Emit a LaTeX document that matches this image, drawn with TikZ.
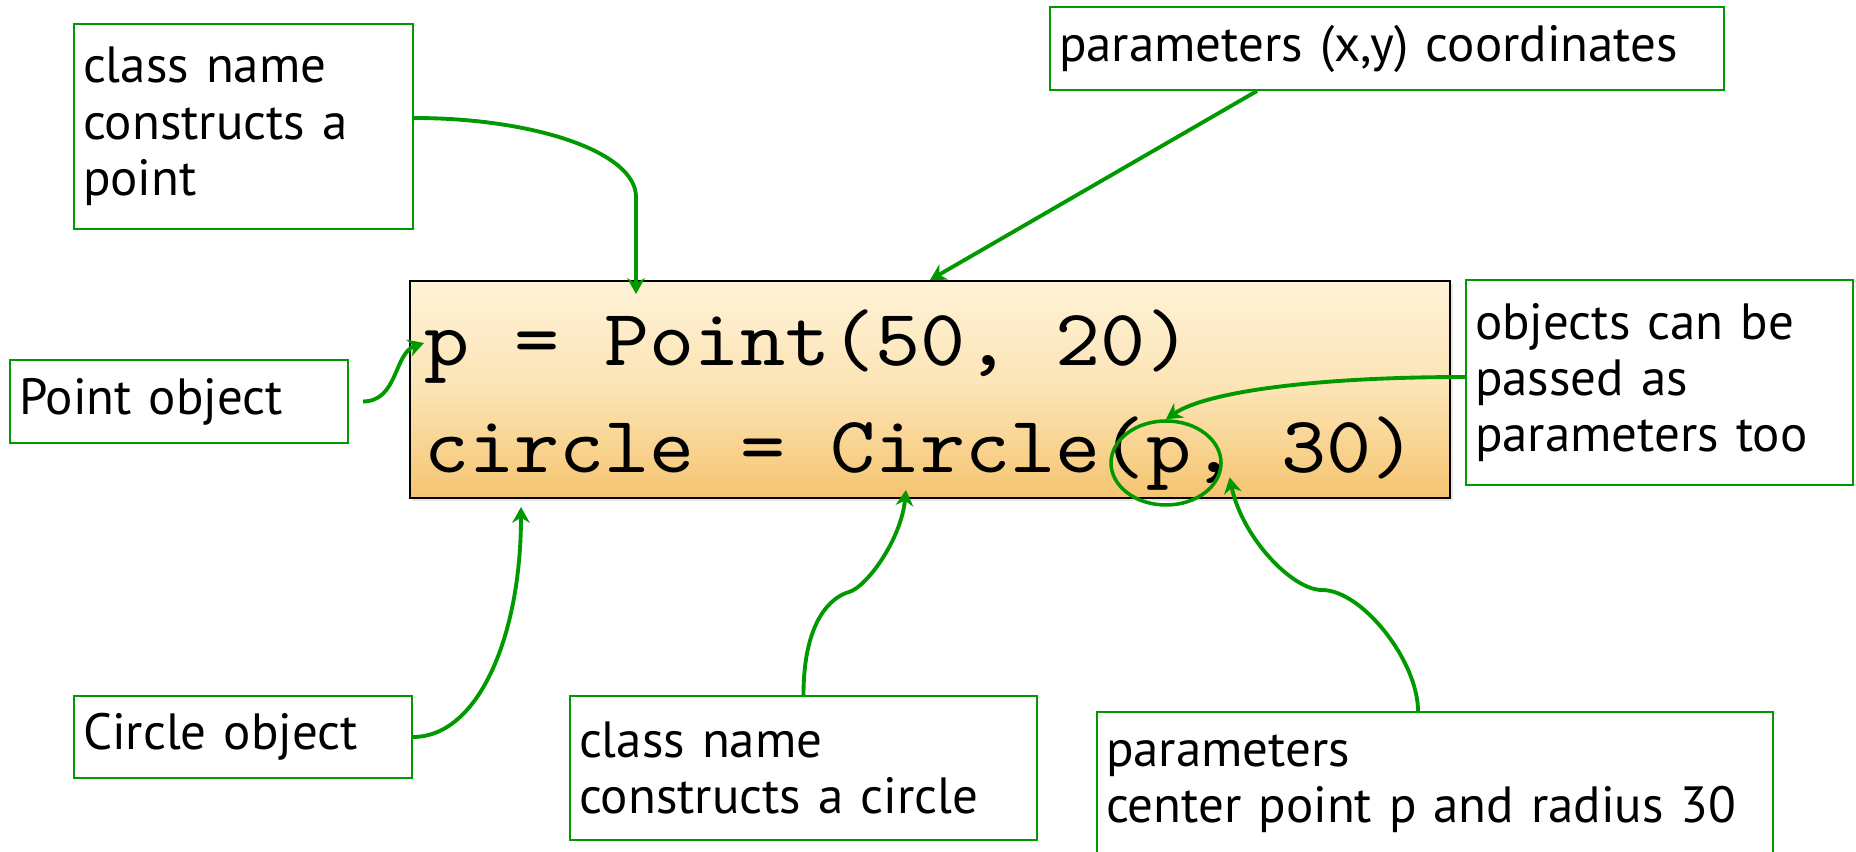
\documentclass[tikz,border=0pt]{standalone}
\usepackage{fontspec}
\setmainfont{PT Sans}
\newfontfamily\codefont{lmmono10-regular.otf}[FakeStretch=1.07]
\usepackage{xcolor}
\usetikzlibrary{arrows.meta, positioning, shapes.geometric, shadows}

\definecolor{anngreen}{RGB}{0,153,0}
\definecolor{codetop}{RGB}{254,242,215}
\definecolor{codemid}{RGB}{252,228,180}
\definecolor{codebot}{RGB}{245,196,112}

\begin{document}
\begin{tikzpicture}[
  note/.style={draw=anngreen, line width=1.1pt, fill=white, align=left, inner xsep=0.18cm, inner ysep=0pt, font=\fontsize{29}{32}\selectfont},
  codeline/.style={font=\codefont\fontsize{45.7}{50}\selectfont, anchor=base west, inner sep=0pt},
  arr/.style={-{Stealth[length=9pt, width=10pt]}, anngreen, line width=2.2pt}
]
  \useasboundingbox (0,0) rectangle (37.12,17.04);

  % Code block
  \node[draw=black, line width=1.2pt, top color=codetop, bottom color=codebot, middle color=codemid,
        minimum width=20.8cm, minimum height=4.34cm,
        drop shadow={opacity=0.2, shadow xshift=0.06cm, shadow yshift=-0.06cm}] (code) at (18.6, 9.25) {};
  \node[codeline] (line1) at (8.48, 9.72) {p = Point(50, 20)};
  \node[codeline] (line2) at (8.48, 7.58) {circle = Circle(p, 30)};
  \node[ellipse, draw=anngreen, line width=2pt, minimum width=2.2cm, minimum height=1.68cm] (pring) at (23.32, 7.78) {};

  % Notes
  \node[note, text width=6.42cm, minimum height=4.10cm] (n_ctor) at (4.87, 14.51) {class name\\constructs a\\point};
  \node[note, text width=13.12cm, minimum height=1.66cm] (n_xy) at (27.74, 16.07) {parameters (x,y) coordinates};
  \node[note, text width=6.40cm, minimum height=1.66cm] (n_pobj) at (3.58, 9.01) {Point object};
  \node[note, text width=7.38cm, minimum height=4.10cm] (n_pass) at (33.19, 9.39) {objects can be\\passed as\\parameters too};
  \node[note, text width=6.40cm, minimum height=1.64cm] (n_cobj) at (4.86, 2.30) {Circle object};
  \node[note, text width=8.98cm, minimum height=2.88cm] (n_cctor) at (16.07, 1.68) {class name\\constructs a circle};
  \node[note, text width=13.16cm, minimum height=2.88cm] (n_args) at (28.70, 1.36) {parameters\\center point p and radius 30};

  % Arrow ends inside the code block
  \coordinate (t_ctor) at (12.72, 11.16);
  \coordinate (t_pobj) at (8.48, 10.18);
  \coordinate (t_cobj) at (10.42, 6.90);
  \coordinate (t_cctor) at (18.12, 7.24);

  % Connectors
  \draw[arr] ([yshift=0.17cm]n_ctor.east) .. controls +(2.4,0) and +(0,0.9) .. (12.72,13.1) -- (t_ctor);
  \draw[arr] ([xshift=-2.6cm]n_xy.south) -- (code.north);
  \draw[arr] ([xshift=0.28cm]n_pobj.east) .. controls +(0.7,0) and +(-0.6,-0.2) .. (t_pobj);
  \draw[arr] (n_cobj.east) .. controls +(1.3,0) and +(0,-2.6) .. (t_cobj);
  \draw[arr] (n_cctor.north) .. controls +(0,1.5) and +(-0.35,-0.1) .. (16.98,5.2)
             .. controls +(0.35,0.1) and +(-0.1,-1.0) .. (t_cctor);
  \draw[arr] ([xshift=-0.34cm]n_args.north) .. controls +(0,1.0) and +(0.8,0) .. (26.44,5.24)
             .. controls +(-0.6,0) and +(0.25,-1.2) .. ([xshift=0.2cm]pring.-15);
  \draw[arr] ([yshift=0.11cm]n_pass.west) .. controls +(-3.0,0) and +(0.8,0.55) .. (pring.north);

\end{tikzpicture}
\end{document}
